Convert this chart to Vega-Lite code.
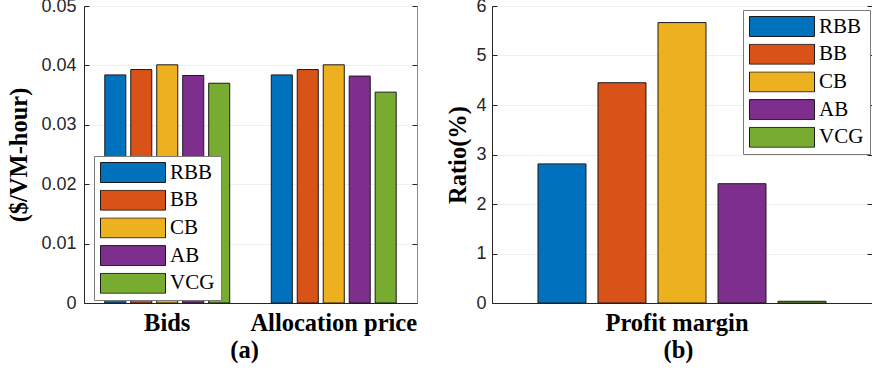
{
  "$schema": "https://vega.github.io/schema/vega-lite/v6.json",
  "background": "white",
  "padding": {"left": 6, "top": -4, "right": 0, "bottom": 0},
  "datasets": {
    "prices": [
      {"metric": "Bids", "method": "RBB", "value": 0.0384},
      {"metric": "Bids", "method": "BB", "value": 0.0393},
      {"metric": "Bids", "method": "CB", "value": 0.0401},
      {"metric": "Bids", "method": "AB", "value": 0.0383},
      {"metric": "Bids", "method": "VCG", "value": 0.0370},
      {"metric": "Allocation price", "method": "RBB", "value": 0.0384},
      {"metric": "Allocation price", "method": "BB", "value": 0.0393},
      {"metric": "Allocation price", "method": "CB", "value": 0.0401},
      {"metric": "Allocation price", "method": "AB", "value": 0.0382},
      {"metric": "Allocation price", "method": "VCG", "value": 0.0355}
    ],
    "margin": [
      {"metric": "Profit margin", "method": "RBB", "value": 2.81},
      {"metric": "Profit margin", "method": "BB", "value": 4.45},
      {"metric": "Profit margin", "method": "CB", "value": 5.665},
      {"metric": "Profit margin", "method": "AB", "value": 2.41},
      {"metric": "Profit margin", "method": "VCG", "value": 0.035}
    ]
  },
  "bounds": "flush",
  "spacing": 75,
  "hconcat": [
    {
      "width": 333,
      "height": 297,
      "data": {"name": "prices"},
      "layer": [
        {
          "mark": {"type": "bar", "stroke": "#1a1a1a", "strokeWidth": 1},
          "encoding": {
            "x": {
              "field": "metric", "type": "nominal", "sort": ["Bids", "Allocation price"],
              "scale": {"paddingInner": 0.22, "paddingOuter": 0.11},
              "axis": {"title": "(a)", "titleX": 160, "labelAngle": 0, "ticks": false, "grid": false,
                       "labelFont": "Liberation Serif", "labelFontWeight": "bold", "labelFontSize": 24.5,
                       "labelColor": "black", "labelPadding": 8, "titlePadding": 4}
            },
            "xOffset": {
              "field": "method", "type": "nominal", "sort": ["RBB", "BB", "CB", "AB", "VCG"],
              "scale": {"paddingInner": 0.19, "paddingOuter": 0.095}
            },
            "y": {
              "field": "value", "type": "quantitative", "stack": null,
              "scale": {"domain": [0, 0.05], "nice": false},
              "axis": {"title": "($/VM-hour)", "values": [0, 0.01, 0.02, 0.03, 0.04, 0.05], "format": ".2~f",
                       "tickSize": -5, "labelPadding": 13, "grid": true, "titlePadding": 9}
            },
            "color": {
              "field": "method", "type": "nominal", "sort": ["RBB", "BB", "CB", "AB", "VCG"],
              "scale": {"domain": ["RBB", "BB", "CB", "AB", "VCG"],
                        "range": ["#0072BD", "#D95319", "#EDB120", "#7E2F8E", "#77AC30"]},
              "legend": {"title": null, "orient": "none", "legendX": 10, "legendY": 150,
                         "symbolType": "M-1,-0.3077H1V0.3077H-1Z", "symbolSize": 4225,
                         "symbolStrokeColor": "#1a1a1a", "symbolStrokeWidth": 1, "symbolOpacity": 1,
                         "clipHeight": 21, "rowPadding": 5.7, "labelOffset": 4,
                         "labelFont": "Liberation Serif", "labelFontSize": 21, "labelColor": "black", "labelLimit": 300,
                         "padding": 6, "fillColor": "white", "strokeColor": "#7a7a7a"}
            }
          }
        },
        {
          "mark": {"type": "bar", "opacity": 0},
          "encoding": {
            "x": {"field": "metric", "type": "nominal", "sort": ["Bids", "Allocation price"]},
            "y": {
              "field": "value", "type": "quantitative", "stack": null,
              "scale": {"domain": [0, 0.05], "nice": false},
              "axis": {"orient": "right", "title": null, "labels": false, "grid": false, "domain": false,
                       "values": [0, 0.01, 0.02, 0.03, 0.04, 0.05], "tickSize": -5}
            }
          }
        }
      ],
      "resolve": {"axis": {"y": "independent"}}
    },
    {
      "width": 380,
      "height": 297,
      "data": {"name": "margin"},
      "layer": [
        {
          "mark": {"type": "bar", "stroke": "#1a1a1a", "strokeWidth": 1},
          "encoding": {
            "x": {
              "field": "metric", "type": "nominal",
              "scale": {"paddingInner": 0, "paddingOuter": 0.1333},
              "axis": {"title": "(b)", "titleX": 186, "labelAngle": 0, "ticks": false, "grid": false,
                       "labelFont": "Liberation Serif", "labelFontWeight": "bold", "labelFontSize": 24.5,
                       "labelColor": "black", "labelPadding": 8, "labelOffset": -5, "titlePadding": 4}
            },
            "xOffset": {
              "field": "method", "type": "nominal", "sort": ["RBB", "BB", "CB", "AB", "VCG"],
              "scale": {"paddingInner": 0.2, "paddingOuter": 0.1}
            },
            "y": {
              "field": "value", "type": "quantitative", "stack": null,
              "scale": {"domain": [0, 6], "nice": false},
              "axis": {"title": "Ratio(%)", "values": [0, 1, 2, 3, 4, 5, 6], "format": "d",
                       "tickSize": -5, "labelPadding": 11, "grid": true, "titlePadding": 5}
            },
            "color": {
              "field": "method", "type": "nominal", "sort": ["RBB", "BB", "CB", "AB", "VCG"],
              "scale": {"domain": ["RBB", "BB", "CB", "AB", "VCG"],
                        "range": ["#0072BD", "#D95319", "#EDB120", "#7E2F8E", "#77AC30"]},
              "legend": {"title": null, "orient": "none", "legendX": 251, "legendY": 4,
                         "symbolType": "M-1,-0.3077H1V0.3077H-1Z", "symbolSize": 4225,
                         "symbolStrokeColor": "#1a1a1a", "symbolStrokeWidth": 1, "symbolOpacity": 1,
                         "clipHeight": 21, "rowPadding": 5.7, "labelOffset": 4,
                         "labelFont": "Liberation Serif", "labelFontSize": 21, "labelColor": "black", "labelLimit": 300,
                         "padding": 6, "fillColor": "white", "strokeColor": "#7a7a7a"}
            }
          }
        },
        {
          "mark": {"type": "bar", "opacity": 0},
          "encoding": {
            "x": {"field": "metric", "type": "nominal"},
            "y": {
              "field": "value", "type": "quantitative", "stack": null,
              "scale": {"domain": [0, 6], "nice": false},
              "axis": {"orient": "right", "title": null, "labels": false, "grid": false, "domain": false,
                       "values": [0, 1, 2, 3, 4, 5, 6], "tickSize": -5}
            }
          }
        }
      ],
      "resolve": {"axis": {"y": "independent"}}
    }
  ],
  "resolve": {
    "scale": {"x": "independent", "xOffset": "independent", "y": "independent", "color": "independent"},
    "legend": {"color": "independent"}
  },
  "config": {
    "view": {"stroke": "#8a8a8a", "strokeWidth": 1},
    "axis": {
      "labelFont": "Liberation Sans", "labelFontSize": 18, "labelColor": "#262626",
      "domainColor": "#262626", "tickColor": "#262626", "gridColor": "#efefef",
      "titleFont": "Liberation Serif", "titleFontWeight": "bold", "titleFontSize": 24.5, "titleColor": "black"
    }
  }
}
